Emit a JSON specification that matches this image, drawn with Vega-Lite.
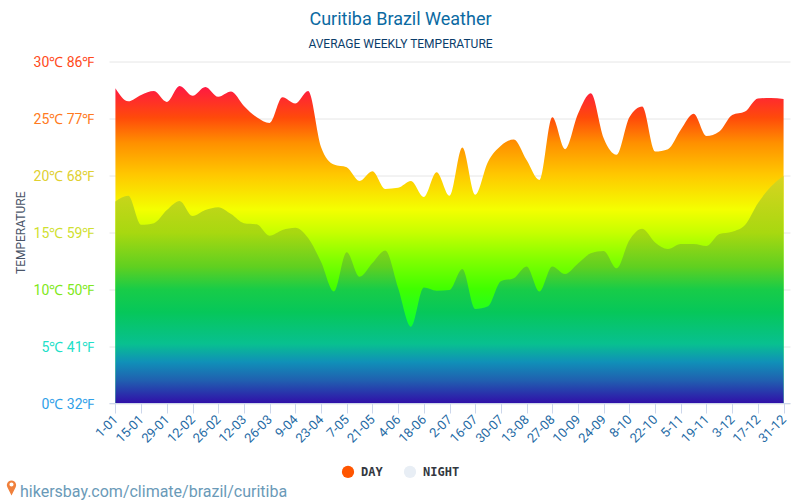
{"$schema":"https://vega.github.io/schema/vega-lite/v6.json","width":681,"height":341.5,"autosize":{"type":"none"},"padding":{"left":109,"top":61.5,"right":10,"bottom":97},"background":"#ffffff","config":{"view":{"stroke":null}},"title":{"text":"Curitiba Brazil Weather","subtitle":"AVERAGE WEEKLY TEMPERATURE","anchor":"middle","dx":-49,"offset":6,"font":"Roboto","fontSize":18,"fontWeight":"normal","color":"#0b6aa2","subtitleFont":"Roboto","subtitleFontSize":12,"subtitleColor":"#0a3d6b","subtitlePadding":10},"data":{"values":[{"d":"1-01","day":27.65,"night":17.7},{"d":"8-01","day":26.5,"night":18.2},{"d":"15-01","day":27.06,"night":15.65},{"d":"22-01","day":27.4,"night":15.8},{"d":"29-01","day":26.45,"night":16.95},{"d":"5-02","day":27.85,"night":17.75},{"d":"12-02","day":27.0,"night":16.43},{"d":"19-02","day":27.77,"night":16.95},{"d":"26-02","day":26.9,"night":17.2},{"d":"5-03","day":27.36,"night":16.6},{"d":"12-03","day":26.1,"night":15.8},{"d":"19-03","day":25.1,"night":15.7},{"d":"26-03","day":24.6,"night":14.7},{"d":"2-04","day":26.85,"night":15.2},{"d":"9-04","day":26.3,"night":15.4},{"d":"16-04","day":27.4,"night":14.5},{"d":"23-04","day":22.5,"night":12.4},{"d":"30-04","day":20.95,"night":9.8},{"d":"7-05","day":20.7,"night":13.25},{"d":"14-05","day":19.5,"night":11.1},{"d":"21-05","day":20.35,"night":12.3},{"d":"28-05","day":18.8,"night":13.4},{"d":"4-06","day":18.9,"night":10.1},{"d":"11-06","day":19.5,"night":6.7},{"d":"18-06","day":18.1,"night":10.15},{"d":"25-06","day":20.27,"night":9.87},{"d":"2-07","day":18.2,"night":9.93},{"d":"9-07","day":22.45,"night":11.77},{"d":"16-07","day":18.3,"night":8.26},{"d":"23-07","day":21.2,"night":8.5},{"d":"30-07","day":22.6,"night":10.7},{"d":"6-08","day":23.15,"night":10.97},{"d":"13-08","day":21.35,"night":12.0},{"d":"20-08","day":19.6,"night":9.8},{"d":"27-08","day":25.1,"night":12.0},{"d":"3-09","day":22.3,"night":11.33},{"d":"10-09","day":25.4,"night":12.25},{"d":"17-09","day":27.2,"night":13.15},{"d":"24-09","day":23.25,"night":13.35},{"d":"1-10","day":21.8,"night":11.83},{"d":"8-10","day":25.1,"night":14.3},{"d":"15-10","day":26.05,"night":15.3},{"d":"22-10","day":22.1,"night":14.1},{"d":"29-10","day":22.3,"night":13.53},{"d":"5-11","day":24.0,"night":13.97},{"d":"12-11","day":25.4,"night":13.97},{"d":"19-11","day":23.45,"night":13.8},{"d":"26-11","day":23.85,"night":14.85},{"d":"3-12","day":25.3,"night":15.05},{"d":"10-12","day":25.6,"night":15.64},{"d":"17-12","day":26.75,"night":17.55},{"d":"24-12","day":26.8,"night":19.0},{"d":"31-12","day":26.7,"night":19.95}]},"encoding":{"x":{"field":"d","type":"ordinal","sort":null,"scale":{"type":"point","padding":0.5},"axis":{"values":["1-01","15-01","29-01","12-02","26-02","12-03","26-03","9-04","23-04","7-05","21-05","4-06","18-06","2-07","16-07","30-07","13-08","27-08","10-09","24-09","8-10","22-10","5-11","19-11","3-12","17-12","31-12"],"labelAngle":-45,"labelAlign":"right","labelBaseline":"middle","labelFont":"Roboto","labelFontSize":13,"labelColor":"#1f6ba5","labelPadding":4,"labelOverlap":false,"tickColor":"#ccd6eb","tickSize":10,"domainColor":"#ccd6eb","grid":false,"title":"hikersbay.com/climate/brazil/curitiba","titleFont":"Roboto","titleFontSize":16,"titleFontWeight":"normal","titleColor":"#6a9ab8","titleAnchor":"start","titleAlign":"left","titleX":-89.5,"titleY":80}}},"layer":[{"mark":{"type":"area","interpolate":"monotone","color":{"gradient":"linear","x1":0,"y1":0,"x2":0,"y2":1,"stops":[{"offset":0,"color":"#ff1744"},{"offset":0.1,"color":"#ff4a0a"},{"offset":0.18,"color":"#ff9000"},{"offset":0.28,"color":"#ffc800"},{"offset":0.39,"color":"#f4ff00"},{"offset":0.46,"color":"#c8ff00"},{"offset":0.55,"color":"#80ff00"},{"offset":0.64,"color":"#40ff00"},{"offset":0.75,"color":"#10ff30"},{"offset":1,"color":"#00d070"}]}},"encoding":{"y":{"field":"day","type":"quantitative","scale":{"domain":[0,30]},"axis":{"values":[0,5,10,15,20,25,30],"labelExpr":"datum.value + '℃ ' + round(32 + 1.8 * datum.value) + '℉'","labelFont":"Roboto","labelFontSize":14,"labelPadding":15,"labelOffset":1,"tickSize":0,"domain":false,"gridColor":"#e6e6e6","grid":true,"gridWidth":1,"labelColor":{"condition":[{"test":"datum.value==30","value":"#ff4a1a"},{"test":"datum.value==25","value":"#ff7a20"},{"test":"datum.value==20","value":"#e0d030"},{"test":"datum.value==15","value":"#d0e030"},{"test":"datum.value==10","value":"#80e820"},{"test":"datum.value==5","value":"#20e0c8"}],"value":"#30a0e8"},"title":"TEMPERATURE","titleFont":"Roboto","titleFontSize":12,"titleFontWeight":"normal","titleColor":"#4a5568","titlePadding":6}}}},{"mark":{"type":"area","interpolate":"monotone","color":{"gradient":"linear","x1":0,"y1":0,"x2":0,"y2":1,"stops":[{"offset":0,"color":"#d8d420"},{"offset":0.25,"color":"#a8d810"},{"offset":0.4,"color":"#60d020"},{"offset":0.5,"color":"#18cc48"},{"offset":0.6,"color":"#06c75a"},{"offset":0.74,"color":"#08c090"},{"offset":0.82,"color":"#1090b8"},{"offset":0.9,"color":"#2060b0"},{"offset":1,"color":"#3010a8"}]}},"encoding":{"y":{"field":"night","type":"quantitative"}}},{"mark":{"type":"point","filled":true,"opacity":0},"transform":[{"fold":["DAY","NIGHT"],"as":["series","v"]}],"encoding":{"color":{"field":"series","type":"nominal","scale":{"domain":["DAY","NIGHT"],"range":["#ff5500","#e8eef5"]},"legend":{"title":null,"orient":"none","legendX":232,"legendY":403,"direction":"horizontal","symbolType":"circle","symbolSize":150,"symbolOpacity":1,"labelFont":"DejaVu Sans Mono","labelFontSize":12,"labelFontWeight":"bold","labelColor":"#333840","columnPadding":20,"labelOffset":6}}}},{"mark":{"type":"point","filled":true,"opacity":0,"color":"#f0803c"},"encoding":{"color":{"value":"#f0803c"},"shape":{"datum":"pin","scale":{"domain":["pin"],"range":["M0,1 L-0.55,-0.1 A0.62,0.62 0 1 1 0.55,-0.1 Z M0,-0.75 A0.27,0.27 0 1 0 0.001,-0.75 Z"]},"legend":{"title":null,"orient":"none","legendX":-105,"legendY":419,"symbolSize":225,"symbolFillColor":"#f0803c","symbolStrokeWidth":0,"symbolOpacity":1,"labelExpr":"''","labelFontSize":1,"labelOffset":0}}}}]}
